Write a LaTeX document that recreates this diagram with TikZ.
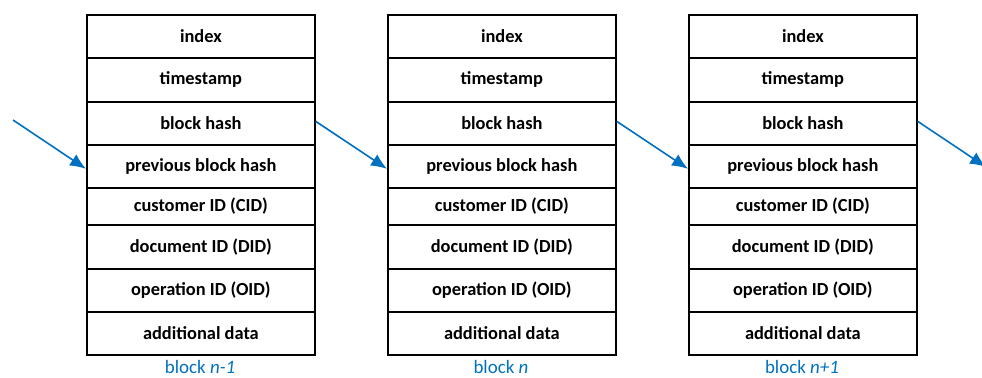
\documentclass[tikz,border=0pt]{standalone}
\usepackage{fontspec}
\setmainfont{Carlito}
\usetikzlibrary{arrows.meta}
\definecolor{arrowblue}{HTML}{0070C0}
\begin{document}
\begin{tikzpicture}[x=0.75pt,y=-0.75pt,
  cell/.style={draw=black, line width=1.3pt, minimum width=228*0.75pt, inner sep=0pt, anchor=north west, font=\fontsize{13.8}{15}\selectfont\bfseries},
  link/.style={draw=arrowblue, line width=1.2pt, -{Latex[length=12pt,width=10pt]}},
  blocklabel/.style={text=arrowblue, inner sep=0pt, anchor=base, font=\fontsize{14.2}{16}\selectfont}]
\useasboundingbox (0,0) rectangle (982,378);
\foreach \b/\x in {1/86,2/387,3/688}{
  \node[cell, minimum height=43*0.75pt] (b\b r1) at (\x,14) {index};
  \node[cell, minimum height=44*0.75pt] (b\b r2) at (\x,57) {timestamp};
  \node[cell, minimum height=43*0.75pt] (b\b r3) at (\x,101) {block hash};
  \node[cell, minimum height=43*0.75pt] (b\b r4) at (\x,144) {previous block hash};
  \node[cell, minimum height=37*0.75pt] (b\b r5) at (\x,187) {customer ID (CID)};
  \node[cell, minimum height=44*0.75pt] (b\b r6) at (\x,224) {document ID (DID)};
  \node[cell, minimum height=43*0.75pt] (b\b r7) at (\x,268) {operation ID (OID)};
  \node[cell, minimum height=43*0.75pt] (b\b r8) at (\x,311) {additional data};
}
\node[blocklabel] (l1) at (200,373.5) {block \textit{n-1}};
\node[blocklabel] (l2) at (501,373.5) {block \textit{n}};
\node[blocklabel] (l3) at (802,373.5) {block \textit{n+1}};
\coordinate (in) at (13,120);
\coordinate (out) at (986,167);
\draw[link] (in) -- ([yshift=-2.5*0.75pt]b1r4.west);
\draw[link] ([yshift=2*0.75pt]b1r3.east) -- ([yshift=-2.5*0.75pt]b2r4.west);
\draw[link] ([yshift=2*0.75pt]b2r3.east) -- ([yshift=-2.5*0.75pt]b3r4.west);
\draw[link] ([yshift=2*0.75pt]b3r3.east) -- (out);
\end{tikzpicture}
\end{document}
